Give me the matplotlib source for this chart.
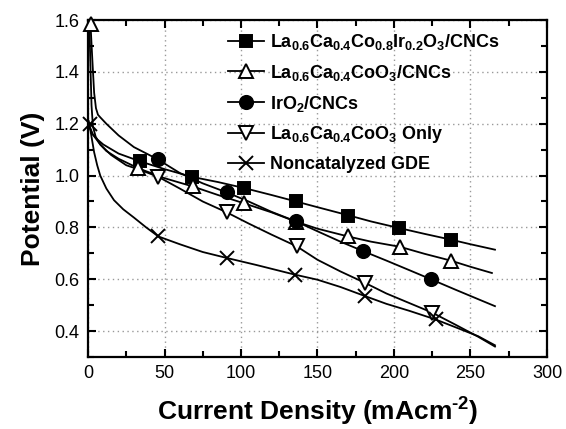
import matplotlib
matplotlib.use("Agg")
import matplotlib.pyplot as plt
from matplotlib.ticker import MultipleLocator

plt.rcParams['font.family'] = ['Liberation Sans', 'DejaVu Sans']
plt.rcParams['mathtext.fontset'] = 'custom'
plt.rcParams['mathtext.rm'] = 'Liberation Sans'
plt.rcParams['mathtext.bf'] = 'Liberation Sans:bold'
plt.rcParams['mathtext.default'] = 'regular'

# ---- data ----
labels = [
    r'La$_{0.6}$Ca$_{0.4}$Co$_{0.8}$Ir$_{0.2}$O$_{3}$/CNCs',
    r'La$_{0.6}$Ca$_{0.4}$CoO$_{3}$/CNCs',
    r'IrO$_{2}$/CNCs',
    r'La$_{0.6}$Ca$_{0.4}$CoO$_{3}$ Only',
    'Noncatalyzed GDE',
]

sq_line_x = [0.5, 3, 6, 10, 20, 34, 50, 68, 85, 102, 120, 136, 150, 170, 185, 203, 220, 237, 250, 266]
sq_line_y = [1.19, 1.16, 1.14, 1.12, 1.085, 1.055, 1.025, 0.995, 0.975, 0.952, 0.925, 0.90, 0.878, 0.847, 0.823, 0.798, 0.775, 0.753, 0.735, 0.714]
sq_mk_x = [34, 68, 102, 136, 170, 203, 237]
sq_mk_y = [1.055, 0.995, 0.952, 0.90, 0.845, 0.798, 0.753]

ut_line_x = [0.8, 1.6, 2.3, 3.2, 5, 8, 12, 20, 33, 50, 68.5, 85, 102, 120, 136, 150, 170, 185, 204, 220, 237, 250, 264]
ut_line_y = [1.6, 1.42, 1.27, 1.19, 1.15, 1.12, 1.095, 1.065, 1.028, 0.99, 0.958, 0.925, 0.893, 0.858, 0.822, 0.795, 0.765, 0.745, 0.725, 0.698, 0.672, 0.648, 0.624]
ut_mk_x = [2.0, 33, 68.5, 102, 136, 170, 204, 237]
ut_mk_y = [1.585, 1.028, 0.958, 0.893, 0.822, 0.765, 0.725, 0.672]

ci_line_x = [1.5, 2.8, 4.0, 5.2, 6.5, 8, 12, 20, 30, 45.5, 60, 75, 90.7, 105, 120, 136, 150, 165, 180, 195, 210, 224.5, 240, 255, 266]
ci_line_y = [1.6, 1.45, 1.32, 1.26, 1.235, 1.225, 1.2, 1.155, 1.11, 1.063, 1.01, 0.97, 0.935, 0.9, 0.86, 0.823, 0.785, 0.745, 0.708, 0.672, 0.635, 0.599, 0.56, 0.523, 0.496]
ci_mk_x = [45.5, 90.7, 136, 180, 224.5]
ci_mk_y = [1.063, 0.935, 0.823, 0.708, 0.599]

dt_line_x = [0.5, 3, 8, 15, 25, 35, 46, 60, 75, 90.7, 105, 120, 136.4, 150, 165, 181, 195, 210, 225, 240, 255, 266]
dt_line_y = [1.2, 1.16, 1.12, 1.08, 1.04, 1.02, 0.995, 0.95, 0.9, 0.858, 0.815, 0.772, 0.727, 0.675, 0.63, 0.586, 0.545, 0.508, 0.471, 0.425, 0.378, 0.34]
dt_mk_x = [46, 90.7, 136.4, 181, 225]
dt_mk_y = [0.995, 0.858, 0.727, 0.586, 0.471]

nc_line_x = [0.5, 2, 4, 6, 8, 12, 17, 23, 30, 38, 46, 60, 75, 90.7, 110, 135, 150, 165, 181, 195, 210, 227, 240, 255, 266]
nc_line_y = [1.21, 1.16, 1.09, 1.04, 1.0, 0.95, 0.905, 0.87, 0.838, 0.8, 0.765, 0.735, 0.705, 0.682, 0.655, 0.618, 0.598, 0.57, 0.535, 0.505, 0.478, 0.445, 0.415, 0.38, 0.345]
nc_mk_x = [1.5, 46, 90.7, 135, 181, 227.7]
nc_mk_y = [1.2, 0.765, 0.682, 0.618, 0.535, 0.445]

series = [
    (sq_line_x, sq_line_y, sq_mk_x, sq_mk_y, dict(marker='s', mfc='black', ms=9)),
    (ut_line_x, ut_line_y, ut_mk_x, ut_mk_y, dict(marker='^', mfc='white', ms=10)),
    (ci_line_x, ci_line_y, ci_mk_x, ci_mk_y, dict(marker='o', mfc='black', ms=9.5)),
    (dt_line_x, dt_line_y, dt_mk_x, dt_mk_y, dict(marker='v', mfc='white', ms=10)),
    (nc_line_x, nc_line_y, nc_mk_x, nc_mk_y, dict(marker='x', mfc='black', ms=10)),
]

fig = plt.figure(figsize=(5.66, 4.29), dpi=100)
ax = fig.add_axes([0.1555, 0.168, 0.8109, 0.785])

handles = []
for (lx, ly, mx, my, st), lab in zip(series, labels):
    ax.plot(lx, ly, color='black', lw=1.3, zorder=2)
    ax.plot(mx, my, ls='none', color='black', mec='black', mew=1.4,
            zorder=3, clip_on=False, **st)
    h, = ax.plot([], [], color='black', lw=1.3, mec='black', mew=1.4, **st)
    handles.append(h)

ax.set_xlim(0, 300)
ax.set_ylim(0.3, 1.6)
ax.xaxis.set_major_locator(MultipleLocator(50))
ax.xaxis.set_minor_locator(MultipleLocator(25))
ax.yaxis.set_minor_locator(MultipleLocator(0.1))
ax.set_yticks([0.4, 0.6, 0.8, 1.0, 1.2, 1.4, 1.6])
ax.set_yticklabels(['0.4', '0.6', '0.8', '1.0', '1.2', '1.4', '1.6'])
ax.tick_params(which='both', direction='in', top=True, right=True, width=1.5, labelsize=13)
ax.tick_params(which='major', length=6, pad=6)
ax.tick_params(which='minor', length=4)
ax.grid(True, which='major', ls=(0, (1, 2.5)), color='#999999', lw=1.0)
for s in ax.spines.values():
    s.set_linewidth(1.6)

ax.set_xlabel('Current Density (mAcm$^{\u20102}$)', fontsize=19, fontweight='bold', labelpad=10)
ax.set_ylabel('Potential (V)', fontsize=19, fontweight='bold', labelpad=7)

leg = ax.legend(handles, labels, loc='upper left', bbox_to_anchor=(0.305, 0.965), frameon=False,
                prop={'size': 13, 'weight': 'bold'}, handlelength=2.0, handletextpad=0.3,
                labelspacing=0.6, borderaxespad=0.0, borderpad=0.0)

fig.savefig('out.png', dpi=100)
